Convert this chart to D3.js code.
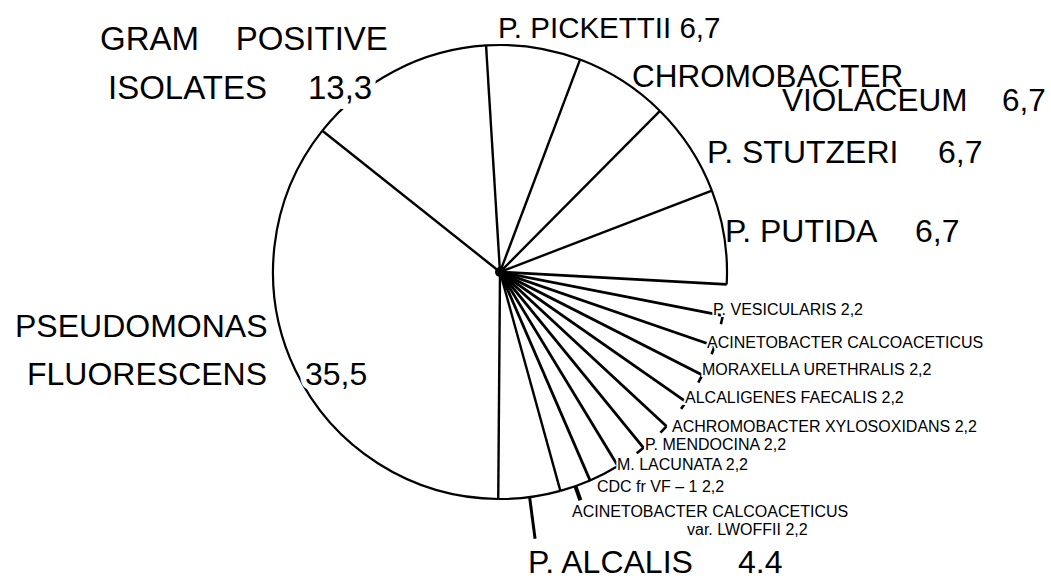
<!DOCTYPE html>
<html><head><meta charset="utf-8">
<script src="https://cdn.jsdelivr.net/npm/d3@7"></script>
<style>
html,body{margin:0;padding:0;background:#fff;}
svg text{font-family:"Liberation Sans",Arial,Helvetica,sans-serif;fill:#000;white-space:pre;}
</style></head><body>
<svg id="chart" width="1051" height="580"></svg>
<script>
// ---- data ----
const categories = ["GRAM POSITIVE ISOLATES","P. PICKETTII","CHROMOBACTER VIOLACEUM","P. STUTZERI","P. PUTIDA",
  "P. VESICULARIS","ACINETOBACTER CALCOACETICUS","MORAXELLA URETHRALIS","ALCALIGENES FAECALIS",
  "ACHROMOBACTER XYLOSOXIDANS","P. MENDOCINA","M. LACUNATA","CDC fr VF – 1",
  "ACINETOBACTER CALCOACETICUS var. LWOFFII","P. ALCALIS","PSEUDOMONAS FLUORESCENS"];
const values = [13.3,6.7,6.7,6.7,6.7,2.2,2.2,2.2,2.2,2.2,2.2,2.2,2.2,2.2,4.4,35.5];
const valueLabels = ["13,3","6,7","6,7","6,7","6,7","2,2","","2,2","2,2","2,2","2,2","2,2","2,2","2,2","4.4","35,5"];
const nameLines = [["GRAM    POSITIVE","ISOLATES"],["P. PICKETTII"],["CHROMOBACTER","VIOLACEUM"],["P. STUTZERI"],["P. PUTIDA"],
  ["P. VESICULARIS"],["ACINETOBACTER CALCOACETICUS"],["MORAXELLA URETHRALIS"],["ALCALIGENES FAECALIS"],
  ["ACHROMOBACTER XYLOSOXIDANS"],["P. MENDOCINA"],["M. LACUNATA"],["CDC fr VF – 1"],
  ["ACINETOBACTER CALCOACETICUS","var. LWOFFII"],["P. ALCALIS"],["PSEUDOMONAS","FLUORESCENS"]];

// ---- layout ----
const W = 1051, H = 580;
const cx = 500, cy = 272, R = 227;
const startDeg = -51.5;
// slices drawn without outer arc (only tick marks at line ends)
const openSlices = new Set(["P. VESICULARIS","ACINETOBACTER CALCOACETICUS","MORAXELLA URETHRALIS","ALCALIGENES FAECALIS",
  "ACHROMOBACTER XYLOSOXIDANS","P. MENDOCINA","M. LACUNATA"]);
// label placement: per category lines [x,y], value [x,y] (null = appended), font size, halo
const labelPos = [
  {lines:[[100,50],[108,99]], val:[308,99], size:33, halo:11},
  {lines:[[498,38]], val:null, size:29.5, halo:4},
  {lines:[[632,87],[782,111]], val:[1002,111], size:31.5, halo:3},
  {lines:[[707,163]], val:[938,163], size:32, halo:3},
  {lines:[[725,242]], val:[915,242], size:32, halo:2},
  {lines:[[713,315]], val:null, size:16, halo:4},
  {lines:[[707,348]], val:null, size:16, halo:4},
  {lines:[[702,375]], val:null, size:16, halo:4},
  {lines:[[685,403]], val:null, size:16, halo:4},
  {lines:[[672,432]], val:null, size:16, halo:4},
  {lines:[[645,450]], val:null, size:16, halo:4},
  {lines:[[617,470]], val:null, size:16, halo:4},
  {lines:[[597,492]], val:null, size:16, halo:4},
  {lines:[[572,517],[687,535]], val:null, size:16, halo:4},
  {lines:[[528,573]], val:[738,573], size:32, halo:4},
  {lines:[[15,337],[27,385]], val:[305,385], size:32, halo:11}
];
const leaders = {"ACINETOBACTER CALCOACETICUS var. LWOFFII":15, "P. ALCALIS":42};

const svg = d3.select("#chart");
svg.append("rect").attr("width",W).attr("height",H).attr("fill","#fff");

const data = categories.map((c,i)=>({name:c, value:values[i], idx:i}));
const pie = d3.pie().sort(null).value(d=>d.value)
  .startAngle(startDeg*Math.PI/180).endAngle(startDeg*Math.PI/180 + 2*Math.PI);
const arcs = pie(data);

const g = svg.append("g").attr("transform",`translate(${cx},${cy})`);
const pt = (a, r) => [Math.sin(a)*r, -Math.cos(a)*r];

// outer arcs
const outline = d3.arc().innerRadius(R).outerRadius(R);
g.selectAll("path.outer").data(arcs.filter(a=>!openSlices.has(a.data.name)))
  .join("path").attr("class","outer").attr("d",outline)
  .attr("fill","none").attr("stroke","#000").attr("stroke-width",2.2);

// ticks at ends of open-slice boundary lines
const tickDeg = 2.2*Math.PI/180;
g.selectAll("path.tick").data(arcs.filter((a,i)=>openSlices.has(a.data.name) && i>0 && openSlices.has(arcs[i-1].data.name)))
  .join("path").attr("class","tick")
  .attr("d",a=>outline({startAngle:a.startAngle, endAngle:a.startAngle+tickDeg}))
  .attr("fill","none").attr("stroke","#000").attr("stroke-width",2.6);

// radial lines
g.selectAll("line.rad").data(arcs).join("line").attr("class","rad")
  .attr("x1",0).attr("y1",0)
  .attr("x2",a=>pt(a.startAngle,R)[0]).attr("y2",a=>pt(a.startAngle,R)[1])
  .attr("stroke","#000").attr("stroke-width",a=>a.data.value<3?2.8:2.4).attr("stroke-linecap","butt");

g.append("circle").attr("r",5).attr("fill","#000");

// leader lines
g.selectAll("line.lead").data(arcs.filter(a=>leaders[a.data.name])).join("line").attr("class","lead")
  .each(function(a){
    const m=(a.startAngle+a.endAngle)/2, p1=pt(m,R), p2=pt(m,R+leaders[a.data.name]);
    d3.select(this).attr("x1",p1[0]).attr("y1",p1[1]).attr("x2",p2[0]).attr("y2",p2[1]);
  })
  .attr("stroke","#000").attr("stroke-width",a=>a.data.value<3?4:3);

// labels
const lab = svg.append("g");
data.forEach((d,i)=>{
  const L = labelPos[i];
  nameLines[i].forEach((t,j)=>{
    const last = j===nameLines[i].length-1;
    const txt = (last && L.val===null && valueLabels[i]) ? t+" "+valueLabels[i] : t;
    lab.append("text").attr("x",L.lines[j][0]).attr("y",L.lines[j][1])
      .attr("font-size",L.size).attr("stroke","#fff").attr("stroke-width",L.halo)
      .attr("paint-order","stroke").text(txt);
  });
  if (L.val) {
    lab.append("text").attr("x",L.val[0]).attr("y",L.val[1]).attr("font-size",L.size)
      .attr("stroke","#fff").attr("stroke-width",L.halo).attr("paint-order","stroke").text(valueLabels[i]);
  }
});
</script>
</body></html>
